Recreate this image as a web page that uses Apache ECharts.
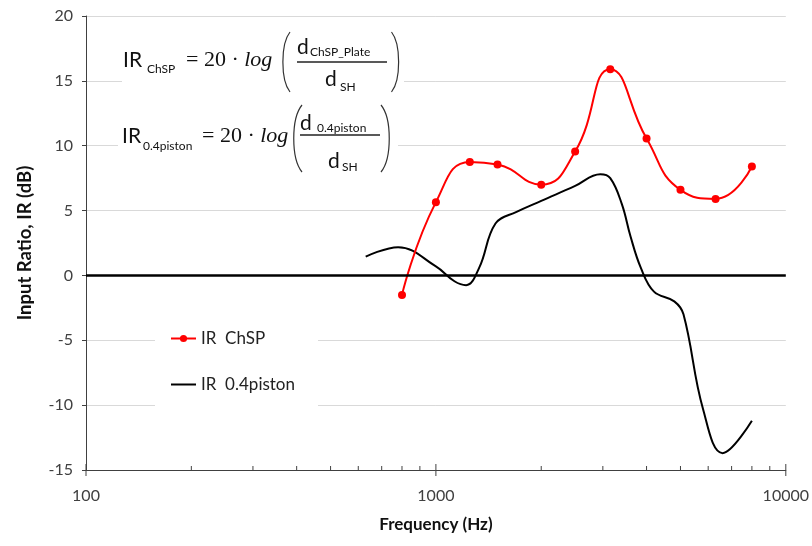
<!DOCTYPE html>
<html>
<head>
<meta charset="utf-8">
<script src="https://cdn.jsdelivr.net/npm/echarts@6/dist/echarts.min.js"></script>
<style>
  html, body { margin: 0; padding: 0; background: #fff; }
  #chart { width: 812px; height: 546px; }
</style>
</head>
<body>
<div id="chart"></div>
<script>
// IR ChSP (1/3 octave points, with markers)
const freqChSP = [800, 1000, 1250, 1500, 2000, 2500, 3150, 4000, 5000, 6300, 8000]
const irChSP = [-1.5, 5.65, 8.75, 8.55, 7.0, 9.55, 15.9, 10.55, 6.6, 5.9, 8.4]

// IR 0.4piston
const freqPiston = [630, 780, 1000, 1130, 1220, 1330, 1480, 1700, 2000, 2500, 2950, 3150, 3400, 3600, 3850, 4200, 4800, 5100, 5800, 6600, 8000]
const irPiston = [1.45, 2.18, 0.7, -0.45, -0.75, 0.6, 4.0, 4.9, 5.75, 6.9, 7.8, 7.5, 5.5, 3.0, 0.6, -1.25, -2.0, -3.0, -10.3, -13.7, -11.2]

// x axis tick positions (log decades with 2..9 minor ticks)
const xTicks = [100, 200, 300, 400, 500, 600, 700, 800, 900,
  1000, 2000, 3000, 4000, 5000, 6000, 7000, 8000, 9000, 10000]

const Y_MIN = -15
const Y_MAX = 20
const sans = 'Lato, "Open Sans", sans-serif'
const serif = '"Liberation Serif", "DejaVu Serif", serif'
const axisGray = '#404040'

const chart = echarts.init(document.getElementById('chart'))

const zip = (xs, ys) => xs.map((x, i) => [x, ys[i]])

const paren = (x, y1, y2, c) => ({
  type: 'bezierCurve', z: 2,
  shape: { x1: x, y1: y1, x2: x, y2: y2, cpx1: c, cpy1: y1 + (y2 - y1) * 0.2, cpx2: c, cpy2: y1 + (y2 - y1) * 0.8 },
  style: { stroke: '#333', lineWidth: 1.2, fill: null },
})
const txt = (x, y, text, size, font) => ({
  type: 'text', z: 2, x, y,
  style: { text, fontSize: size, fontFamily: font || sans, fill: '#111', verticalAlign: 'middle' },
})
const eqText = (x, y) => ({
  type: 'text', z: 2, x, y,
  style: {
    text: '{a|= 20 · }{b|log}', verticalAlign: 'middle', fill: '#111',
    rich: {
      a: { fontFamily: serif, fontSize: 22, fill: '#111' },
      b: { fontFamily: serif, fontSize: 22, fontStyle: 'italic', fill: '#111' },
    },
  },
})
const hline = (x1, x2, y) => ({
  type: 'line', z: 2, shape: { x1, y1: y, x2, y2: y }, style: { stroke: '#222', lineWidth: 1.3 },
})
const box = (x, y, w, h) => ({
  type: 'rect', z: 1, shape: { x, y, width: w, height: h }, style: { fill: '#fff' },
})

const option = {
  animation: false,
  backgroundColor: '#fff',
  grid: { left: 86, right: 26, top: 16, bottom: 76, containLabel: false },
  legend: {
    orient: 'vertical',
    left: 165, top: 325,
    itemGap: 29,
    itemWidth: 25, itemHeight: 9,
    textStyle: { fontFamily: sans, fontSize: 17, color: '#222' },
    data: [
      { name: 'IR  ChSP' },
      { name: 'IR  0.4piston', itemStyle: { opacity: 0 } },
    ],
  },
  xAxis: {
    type: 'log', logBase: 10, min: 100, max: 10000,
    name: 'Frequency (Hz)', nameLocation: 'middle', nameGap: 46,
    nameTextStyle: { fontFamily: sans, fontSize: 17, fontWeight: 'bold', color: '#111' },
    axisLine: { onZero: false, lineStyle: { color: axisGray, width: 1 } },
    axisTick: { show: false },
    axisLabel: { fontFamily: sans, fontSize: 16, color: axisGray, margin: 18, formatter: v => String(Math.round(v)) },
    splitLine: { show: false },
  },
  yAxis: {
    type: 'value', min: Y_MIN, max: Y_MAX, interval: 5,
    name: 'Input Ratio, IR (dB)', nameLocation: 'middle', nameGap: 51,
    nameTextStyle: { fontFamily: sans, fontSize: 18.5, fontWeight: 'bold', color: '#111' },
    axisLine: { show: true, lineStyle: { color: axisGray, width: 1 } },
    axisTick: { show: true, length: 4, lineStyle: { color: axisGray } },
    axisLabel: { fontFamily: sans, fontSize: 16, color: axisGray, margin: 13 },
    splitLine: { show: true, lineStyle: { color: '#d9d9d9', width: 1 } },
  },
  graphic: [
    box(122, 28, 282, 68),
    box(118, 100, 280, 76),
    box(155, 318, 163, 104),
    // IR ChSP = 20 · log( d_ChSP_Plate / d_SH )
    txt(123, 60, 'IR', 21),
    txt(147, 69, 'ChSP', 12),
    eqText(186, 60),
    paren(290, 32, 92, 280.5),
    txt(297, 47, 'd', 21),
    txt(310, 52, 'ChSP_Plate', 12),
    hline(297, 387, 62),
    txt(325, 79, 'd', 21),
    txt(340, 87, 'SH', 12),
    paren(391.5, 32, 92, 401),
    // IR_0.4piston = 20 · log( d_0.4piston / d_SH )
    txt(122, 136, 'IR', 21),
    txt(143, 146, '0.4piston', 12),
    eqText(202, 136),
    paren(302, 105, 172, 291),
    txt(300, 123, 'd', 21),
    txt(317, 128, '0.4piston', 12),
    hline(300, 380, 135),
    txt(328, 161, 'd', 21),
    txt(342, 167, 'SH', 12),
    paren(381, 105, 172, 392),
  ],
  series: [
    {
      name: 'IR  ChSP',
      type: 'line',
      smooth: 0.5,
      data: zip(freqChSP, irChSP),
      symbol: 'circle', symbolSize: 8,
      itemStyle: { color: '#ff0000' },
      lineStyle: { color: '#ff0000', width: 2 },
      z: 4,
    },
    {
      name: 'IR  0.4piston',
      type: 'line',
      smooth: 0.4,
      data: zip(freqPiston, irPiston),
      symbol: 'none',
      itemStyle: { color: '#000' },
      lineStyle: { color: '#000', width: 2 },
      z: 3,
      markLine: {
        silent: true, symbol: 'none',
        label: { show: false },
        lineStyle: { color: '#000', width: 2.5, type: 'solid' },
        data: [{ yAxis: 0 }],
      },
    },
    {
      type: 'custom',
      silent: true,
      clip: false,
      z: 5,
      data: xTicks.map(f => [f]),
      renderItem: (params, api) => {
        const f = api.value(0)
        const p = api.coord([f, Y_MIN])
        const major = Math.abs(Math.log10(f) - Math.round(Math.log10(f))) < 1e-9
        return {
          type: 'line',
          shape: { x1: p[0], y1: p[1] - (major ? 6 : 4), x2: p[0], y2: p[1] + (major ? 6 : 0) },
          style: { stroke: axisGray, lineWidth: 1 },
        }
      },
    },
  ],
}

chart.setOption(option)
</script>
</body>
</html>
